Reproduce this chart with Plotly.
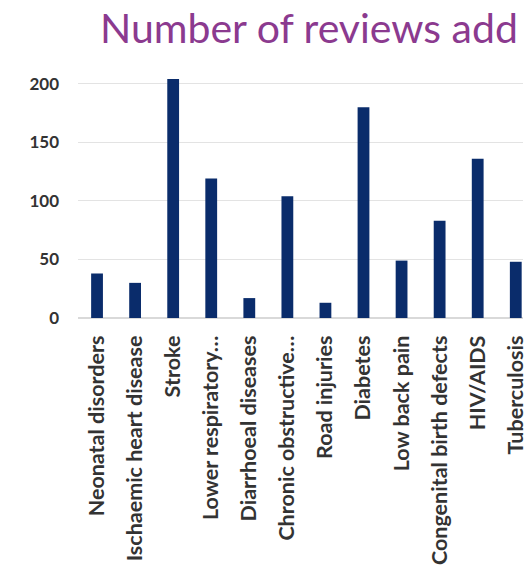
import plotly.graph_objects as go

categories = ["Neonatal disorders", "Ischaemic heart disease", "Stroke", "Lower respiratory…",
              "Diarrhoeal diseases", "Chronic obstructive…", "Road injuries", "Diabetes",
              "Low back pain", "Congenital birth defects", "HIV/AIDS", "Tuberculosis"]
reviews = [38, 30, 204, 119, 17, 104, 13, 180, 49, 83, 136, 48]
y_ticks = [0, 50, 100, 150, 200]
title_text = "Number of reviews add"

W, H = 531, 568
left, right, top, bottom = 78, 3, 72, 250

fig = go.Figure(go.Bar(x=categories, y=reviews, marker=dict(color="#0a2c6b", line=dict(width=0)),
                       width=0.31))

fig.update_layout(
    width=W, height=H,
    margin=dict(l=left, r=right, t=top, b=bottom, pad=0),
    paper_bgcolor="white", plot_bgcolor="white",
    showlegend=False,
    font=dict(family="Lato, sans-serif", color="#404040"),
    title=dict(text=title_text, x=100 / W, xanchor="left", xref="container",
               y=1 - 29 / H, yanchor="middle", yref="container",
               font=dict(family="Lato, sans-serif", size=41, color="#8b3a8f")),
    xaxis=dict(type="category", range=[-0.5, 11.19], tickangle=-90,
               tickfont=dict(size=21.5, color="#333333", weight="bold"), showgrid=False,
               showline=True, linecolor="#d9d9d9", linewidth=1, ticks="", ticklen=0,
               ticklabelstandoff=8),
    yaxis=dict(range=[0, 210], tickvals=y_ticks, showgrid=True, gridcolor="#e3e3e3",
               gridwidth=1, zeroline=True, zerolinecolor="#d9d9d9",
               tickfont=dict(size=17, color="#333333", weight="bold"), ticks="",
               ticklabelstandoff=18),
)

fig.write_html("out.html")
